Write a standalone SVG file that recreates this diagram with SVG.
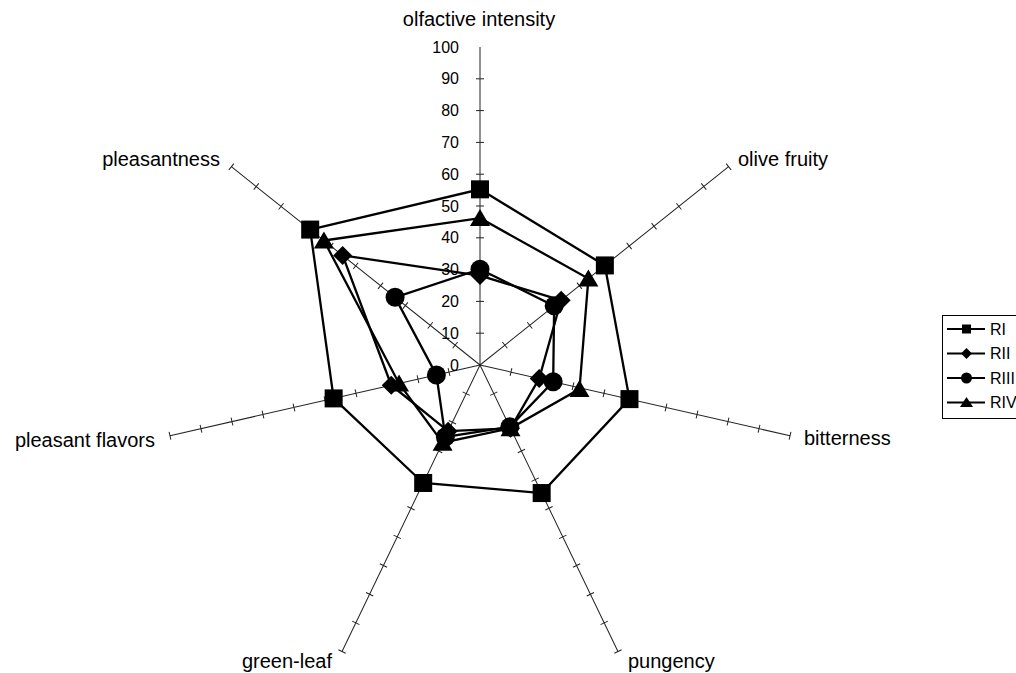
<svg xmlns="http://www.w3.org/2000/svg" xmlns:xlink="http://www.w3.org/1999/xlink" width="1016" height="673" viewBox="0 0 1016 673">
<style>
.ax{fill:none;stroke:#222;stroke-width:1}
.ser{fill:none;stroke:#000;stroke-width:2.3;stroke-linejoin:miter}
.mk{fill:#000;stroke:none}
.lbl{font-family:"Liberation Sans",Arial,sans-serif;font-size:20px;fill:#000}
.num{font-family:"Liberation Sans",Arial,sans-serif;font-size:16px;fill:#000;text-anchor:end}
.leg{font-family:"Liberation Sans",Arial,sans-serif;font-size:16px;fill:#000}
</style>
<defs>
<path id="spoke" class="ax" d="M480 365V47M476 333.2H484M476 301.4H484M476 269.6H484M476 237.8H484M476 206H484M476 174.2H484M476 142.4H484M476 110.6H484M476 78.8H484"/>
<path id="cap" class="ax" d="M476 47H484"/>
<rect id="sq" x="-9" y="-9" width="18" height="18"/>
<polygon id="dm" points="0,-9.5 9.5,0 0,9.5 -9.5,0"/>
<circle id="ci" r="9.5"/>
<polygon id="tr" points="0,-9 10,8 -10,8"/>
<rect id="lsq" x="-4.5" y="-4.5" width="9" height="9"/>
<polygon id="ldm" points="0,-5.5 5.5,0 0,5.5 -5.5,0"/>
<circle id="lci" r="5.5"/>
<polygon id="ltr" points="0,-5.5 6.5,4.5 -6.5,4.5"/>
</defs>
<rect width="1016" height="673" fill="#fff"/>

<g id="axes">
<use href="#spoke"/>
<g transform="rotate(51.4286 480 365)"><use href="#spoke"/><use href="#cap"/></g>
<g transform="rotate(102.8571 480 365)"><use href="#spoke"/><use href="#cap"/></g>
<g transform="rotate(154.2857 480 365)"><use href="#spoke"/><use href="#cap"/></g>
<g transform="rotate(205.7143 480 365)"><use href="#spoke"/><use href="#cap"/></g>
<g transform="rotate(257.1429 480 365)"><use href="#spoke"/><use href="#cap"/></g>
<g transform="rotate(308.5714 480 365)"><use href="#spoke"/><use href="#cap"/></g>
</g>

<g id="scale">
<text class="num" x="459" y="370.5">0</text>
<text class="num" x="459" y="338.7">10</text>
<text class="num" x="459" y="306.9">20</text>
<text class="num" x="459" y="275.1">30</text>
<text class="num" x="459" y="243.3">40</text>
<text class="num" x="459" y="211.5">50</text>
<text class="num" x="459" y="179.7">60</text>
<text class="num" x="459" y="147.9">70</text>
<text class="num" x="459" y="116.1">80</text>
<text class="num" x="459" y="84.3">90</text>
<text class="num" x="459" y="52.5">100</text>
</g>

<g id="axis-labels">
<text id="lbl-olfactive" class="lbl" x="479" y="26" text-anchor="middle">olfactive intensity</text>
<text id="lbl-olive" class="lbl" x="738" y="166">olive fruity</text>
<text id="lbl-bitterness" class="lbl" x="804" y="445">bitterness</text>
<text id="lbl-pungency" class="lbl" x="628" y="668">pungency</text>
<text id="lbl-greenleaf" class="lbl" x="332" y="668" text-anchor="end">green-leaf</text>
<text id="lbl-pleasantflavors" class="lbl" x="155" y="447" text-anchor="end">pleasant flavors</text>
<text id="lbl-pleasantness" class="lbl" x="220" y="166" text-anchor="end">pleasantness</text>
</g>

<g id="series-RI">
<polygon class="ser" points="480,189.33 604.86,265.43 629.47,399.11 541.67,493.06 423.18,482.98 333.65,398.4 310.19,229.58"/>
<g class="mk">
<use href="#sq" x="480" y="189.33"/><use href="#sq" x="604.86" y="265.43"/><use href="#sq" x="629.47" y="399.11"/><use href="#sq" x="541.67" y="493.06"/><use href="#sq" x="423.18" y="482.98"/><use href="#sq" x="333.65" y="398.4"/><use href="#sq" x="310.19" y="229.58"/>
</g>
</g>

<g id="series-RII">
<polygon class="ser" points="480,275.57 561.16,300.28 539.17,378.5 510.49,428.31 448.13,431.19 391.25,385.26 342.65,255.47"/>
<g class="mk">
<use href="#dm" x="480" y="275.57"/><use href="#dm" x="561.16" y="300.28"/><use href="#dm" x="539.17" y="378.5"/><use href="#dm" x="510.49" y="428.31"/><use href="#dm" x="448.13" y="431.19"/><use href="#dm" x="391.25" y="385.26"/><use href="#dm" x="342.65" y="255.47"/>
</g>
</g>

<g id="series-RIII">
<polygon class="ser" points="480,269.18 554.17,305.86 553.18,381.7 509.8,426.87 445.35,436.94 436.4,374.95 395.09,297.29"/>
<g class="mk">
<use href="#ci" x="480" y="269.18"/><use href="#ci" x="554.17" y="305.86"/><use href="#ci" x="553.18" y="381.7"/><use href="#ci" x="509.8" y="426.87"/><use href="#ci" x="445.35" y="436.94"/><use href="#ci" x="436.4" y="374.95"/><use href="#ci" x="395.09" y="297.29"/>
</g>
</g>

<g id="series-RIV">
<polygon class="ser" points="480,218.08 588.38,278.57 579.5,389 510.49,428.31 442.58,442.7 399.04,383.48 323.92,240.53"/>
<g class="mk">
<use href="#tr" x="480" y="218.08"/><use href="#tr" x="588.38" y="278.57"/><use href="#tr" x="579.5" y="389"/><use href="#tr" x="510.49" y="428.31"/><use href="#tr" x="442.58" y="442.7"/><use href="#tr" x="399.04" y="383.48"/><use href="#tr" x="323.92" y="240.53"/>
</g>
</g>

<g id="legend">
<rect x="942.5" y="315.5" width="90" height="103" fill="#fff" stroke="#000" stroke-width="1"/>
<g stroke="#000" stroke-width="2">
<line x1="947" y1="329" x2="985" y2="329"/>
<line x1="947" y1="353.5" x2="985" y2="353.5"/>
<line x1="947" y1="378" x2="985" y2="378"/>
<line x1="947" y1="402.5" x2="985" y2="402.5"/>
</g>
<g class="mk">
<use href="#lsq" x="966.5" y="329"/>
<use href="#ldm" x="966.5" y="353.5"/>
<use href="#lci" x="966.5" y="378"/>
<use href="#ltr" x="966.5" y="402.5"/>
</g>
<text class="leg" x="990" y="334.8">RI</text>
<text class="leg" x="990" y="359.3">RII</text>
<text class="leg" x="990" y="383.8">RIII</text>
<text class="leg" x="990" y="408.3">RIV</text>
</g>
</svg>
